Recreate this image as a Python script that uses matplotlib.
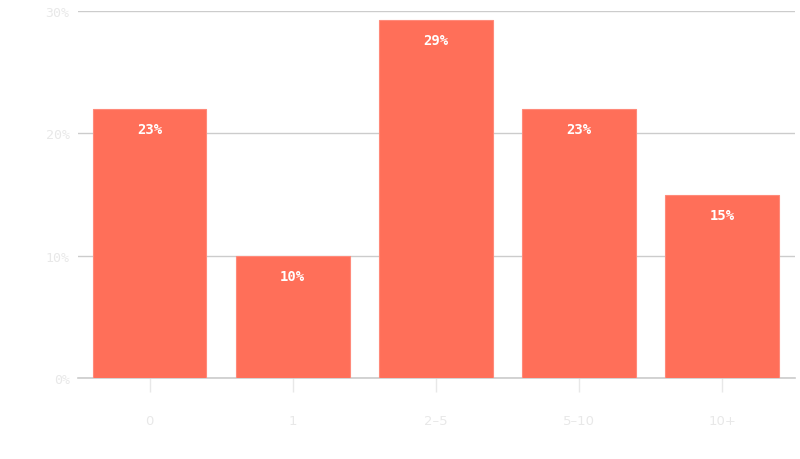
import matplotlib

matplotlib.use("Agg")

import matplotlib.pyplot as plt
from matplotlib.ticker import FuncFormatter

# values (percent of respondents)
categories = ["0", "1", "2\u20135", "5\u201310", "10+"]
shares = [22.0, 10.0, 29.3, 22.0, 15.0]
bar_labels = ["23%", "10%", "29%", "23%", "15%"]
y_ticks = [0, 10, 20, 30]

BAR = "#ff6f59"
GRID = "#cccccc"
FAINT = "#e8e8e8"

fig = plt.figure(figsize=(8, 4.6), dpi=100)
ax = fig.add_axes([0.0975, 0.176, 0.8965, 0.798])

x = range(len(categories))
bars = ax.bar(x, shares, width=0.795, color=BAR, edgecolor="#ff8a7a",
              linewidth=0.8, zorder=3)

for rect, txt in zip(bars, bar_labels):
    ax.annotate(txt, (rect.get_x() + rect.get_width() / 2, rect.get_height()),
                xytext=(0, -14.5), textcoords="offset points",
                ha="center", va="center", color="white", fontsize=10,
                fontweight="bold", family="DejaVu Sans Mono", zorder=4)

ax.set_xlim(-0.5, 4.51)
ax.set_ylim(0, 30)
ax.set_yticks(y_ticks)
ax.yaxis.set_major_formatter(FuncFormatter(lambda v, _: f"{v:.0f}%"))
ax.set_xticks(list(x), labels=categories)

ax.grid(axis="y", color=GRID, linewidth=1, zorder=0)
for side in ("top", "right", "left", "bottom"):
    ax.spines[side].set_visible(False)
ax.axhline(0, color=GRID, linewidth=1.2, zorder=2, clip_on=False)

ax.tick_params(axis="y", length=0, pad=6, labelcolor=FAINT, labelsize=9.5)
for lbl in ax.get_yticklabels():
    lbl.set_family("DejaVu Sans Mono")
ax.tick_params(axis="x", length=10, width=1, color=FAINT, pad=16,
               labelcolor=FAINT, labelsize=9.5)

fig.savefig("out.png", dpi=100)
